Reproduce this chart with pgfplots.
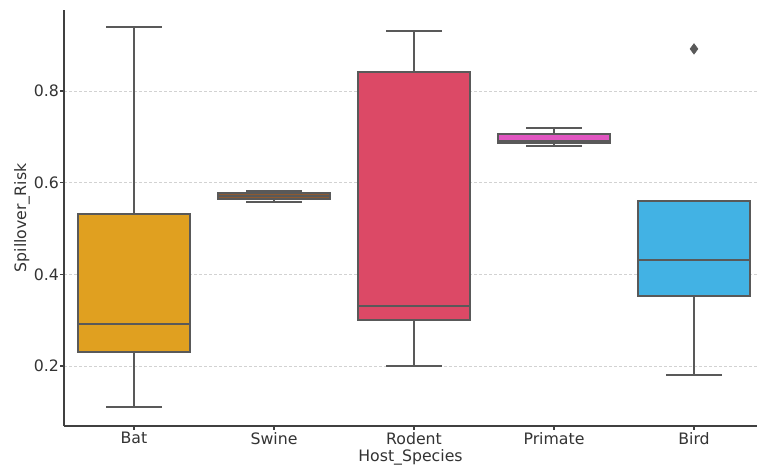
\documentclass[border=0pt]{standalone}
\usepackage{pgfplots}
\pgfplotsset{compat=1.18}
\usepgfplotslibrary{statistics}
\usepackage{fontspec}
\setmainfont{DejaVu Sans}
\definecolor{cBat}{HTML}{E0A020}
\definecolor{cSwine}{HTML}{8C5A32}
\definecolor{cRodent}{HTML}{DC4966}
\definecolor{cPrimate}{HTML}{E055C0}
\definecolor{cBird}{HTML}{42B2E4}
\definecolor{lc}{HTML}{595959}
\definecolor{axc}{HTML}{404040}
\definecolor{txt}{HTML}{333333}
\begin{document}
\begin{tikzpicture}
\path[use as bounding box] (0,0) rectangle (378.5bp,235bp);
\begin{axis}[
  at={(32bp,22bp)}, anchor=south west,
  scale only axis, width=346.5bp, height=208bp,
  xmin=-0.5, xmax=4.45, ymin=0.069, ymax=0.977,
  axis x line*=bottom, axis y line*=left,
  axis line style={axc, line width=0.6bp, -},
  xtick={0,1,2,3,4}, xticklabels={Bat,Swine,Rodent,Primate,Bird},
  ytick={0.2,0.4,0.6,0.8},
  yticklabel style={/pgf/number format/fixed, /pgf/number format/precision=1, /pgf/number format/fixed zerofill, xshift=3bp},
  xticklabel style={yshift=2.5bp},
  /pgf/number format/assume math mode=true,
  tick style={axc, line width=0.6bp},
  tick align=outside, major tick length=2bp,
  ymajorgrids,
  grid style={gray!35, line width=0.4bp, dash pattern=on 1.5bp off 1bp},
  ticklabel style={font=\fontsize{7.9}{9}\selectfont, text=txt},
  xlabel={Host\_Species}, ylabel={Spillover\_Risk},
  label style={font=\fontsize{7.9}{9}\selectfont, text=txt},
  xlabel style={at={(axis description cs:0.5,-0.0745)}, anchor=center},
  ylabel style={at={(axis description cs:-0.0606,0.5)}, anchor=center},
  boxplot/draw direction=y,
  boxplot/box extend=0.8,
  boxplot/whisker extend=0.4,
]
\addplot[draw=lc, line width=1bp, fill=cBat, boxplot prepared={draw position=0,
  lower whisker=0.11, lower quartile=0.231, median=0.291, upper quartile=0.532, upper whisker=0.94}]
  coordinates {};
\addplot[draw=lc, line width=1bp, fill=cSwine, boxplot prepared={draw position=1,
  lower whisker=0.559, lower quartile=0.5645, median=0.57, upper quartile=0.5775, upper whisker=0.5825}]
  coordinates {};
\addplot[draw=lc, line width=1bp, fill=cRodent, boxplot prepared={draw position=2,
  lower whisker=0.20, lower quartile=0.30, median=0.331, upper quartile=0.841, upper whisker=0.931}]
  coordinates {};
\addplot[draw=lc, line width=1bp, fill=cPrimate, boxplot prepared={draw position=3,
  lower whisker=0.681, lower quartile=0.686, median=0.69, upper quartile=0.706, upper whisker=0.72}]
  coordinates {};
\addplot[draw=lc, line width=1bp, fill=cBird, mark=diamond*, mark size=2.6bp,
  mark options={fill=lc, draw=lc, line width=0.3bp},
  boxplot prepared={draw position=4,
  lower whisker=0.18, lower quartile=0.353, median=0.431, upper quartile=0.56, upper whisker=0.56}]
  coordinates {(4,0.892)};
\end{axis}
\end{tikzpicture}
\end{document}
